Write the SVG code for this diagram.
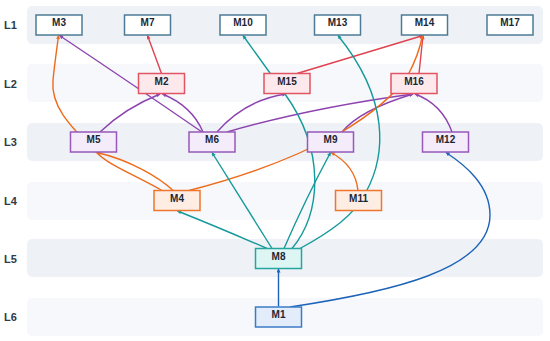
<svg xmlns="http://www.w3.org/2000/svg" width="550" height="341" viewBox="0 0 550 341">
<style>
.band{stroke:none}
.b1{fill:#eef2f7}
.b2{fill:#f6f8fb}
.lay{font-family:"Liberation Sans",Arial,sans-serif;font-weight:bold;font-size:11px;fill:#2e3a47}
.nt{font-family:"Liberation Sans",Arial,sans-serif;font-weight:bold;font-size:10px;fill:#1b2735;text-anchor:middle}
.n rect{stroke-width:1.5}
.l1 rect{fill:#ffffff;stroke:#4d7b95}
.l2 rect{fill:#fde9eb;stroke:#e05464}
.l3 rect{fill:#f4ecfb;stroke:#9758b8}
.l4 rect{fill:#fdede2;stroke:#ef762c}
.l5 rect{fill:#def6f3;stroke:#24a5a0}
.l6 rect{fill:#e2ecfa;stroke:#3b7bc6}
.e{fill:none;stroke-width:1.4}
.red{stroke:#e0424f}
.pur{stroke:#8e44b0}
.ora{stroke:#ee6b1b}
.tea{stroke:#15999a}
.blu{stroke:#1d63b9}
</style>
<defs>
<marker id="aR" viewBox="0 0 10 10" refX="9" refY="5" markerWidth="5" markerHeight="4" markerUnits="userSpaceOnUse" orient="auto"><path d="M0,0L10,5L0,10z" fill="#e0424f"/></marker>
<marker id="aP" viewBox="0 0 10 10" refX="9" refY="5" markerWidth="5" markerHeight="4" markerUnits="userSpaceOnUse" orient="auto"><path d="M0,0L10,5L0,10z" fill="#8e44b0"/></marker>
<marker id="aO" viewBox="0 0 10 10" refX="9" refY="5" markerWidth="5" markerHeight="4" markerUnits="userSpaceOnUse" orient="auto"><path d="M0,0L10,5L0,10z" fill="#ee6b1b"/></marker>
<marker id="aT" viewBox="0 0 10 10" refX="9" refY="5" markerWidth="5" markerHeight="4" markerUnits="userSpaceOnUse" orient="auto"><path d="M0,0L10,5L0,10z" fill="#15999a"/></marker>
<marker id="aB" viewBox="0 0 10 10" refX="9" refY="5" markerWidth="5" markerHeight="4" markerUnits="userSpaceOnUse" orient="auto"><path d="M0,0L10,5L0,10z" fill="#1d63b9"/></marker>
</defs>
<g id="layers">
<rect class="band b1" x="27" y="6" width="516" height="38" rx="5"/>
<rect class="band b2" x="27" y="64" width="516" height="38" rx="5"/>
<rect class="band b1" x="27" y="123" width="516" height="38" rx="5"/>
<rect class="band b2" x="27" y="182" width="516" height="38" rx="5"/>
<rect class="band b1" x="27" y="239" width="516" height="38" rx="5"/>
<rect class="band b2" x="27" y="298" width="516" height="38" rx="5"/>
<text class="lay" x="4" y="29">L1</text>
<text class="lay" x="4" y="87.5">L2</text>
<text class="lay" x="4" y="146">L3</text>
<text class="lay" x="4" y="205">L4</text>
<text class="lay" x="4" y="262.5">L5</text>
<text class="lay" x="4" y="321">L6</text>
</g>
<g id="connectors">
<path class="e red" marker-end="url(#aR)" d="M161.5,73.5L147.5,35.5"/>
<path class="e red" marker-end="url(#aR)" d="M297,73.5L423,35.5"/>
<path class="e red" marker-end="url(#aR)" d="M419,73.5L423,35.5"/>
<path class="e pur" marker-end="url(#aP)" d="M202,132Q135,86 59.5,35.5"/>
<path class="e pur" marker-end="url(#aP)" d="M100,132Q125,108 160,94"/>
<path class="e pur" marker-end="url(#aP)" d="M203,132Q192,106 162.5,94"/>
<path class="e pur" marker-end="url(#aP)" d="M217,132Q245,100 286,94"/>
<path class="e pur" marker-end="url(#aP)" d="M227,132Q310,108 413,94"/>
<path class="e pur" marker-end="url(#aP)" d="M342,132Q360,110 413,94"/>
<path class="e pur" marker-end="url(#aP)" d="M452,132Q442,104 415,94"/>
<path class="e ora" marker-end="url(#aO)" d="M173,190.5C160,178 130,160 97,152.5"/>
<path class="e ora" marker-end="url(#aO)" d="M162,190.5C135,175 108,165 96,152C78,133 50,110 53,80C55,60 57,48 58.5,35.5"/>
<path class="e ora" marker-end="url(#aO)" d="M189,190.5C250,175 300,155 340,133C370,115 395,95 408,75C415,62 420,48 422.5,35.5"/>
<path class="e ora" marker-end="url(#aO)" d="M358,190.5C356,172 345,160 331,152.5"/>
<path class="e tea" marker-end="url(#aT)" d="M267,248.5Q220,228 177.5,211"/>
<path class="e tea" marker-end="url(#aT)" d="M272,248.5L212,152.5"/>
<path class="e tea" marker-end="url(#aT)" d="M284,248.5Q305,200 330.5,152.5"/>
<path class="e tea" marker-end="url(#aT)" d="M292,248.5C322,212 325,150 285,94L243,35.5"/>
<path class="e tea" marker-end="url(#aT)" d="M300,248.5C330,232 355,215 366,192C386,155 390,100 338,35.5"/>
<path class="e blu" marker-end="url(#aB)" d="M278.5,306.5L278.5,269"/>
<path class="e blu" marker-end="url(#aB)" d="M290,307C390,292 490,270 490,215C490,185 465,165 446,152.5"/>
</g>
<g id="M3" class="n l1"><rect x="36" y="15" width="46" height="20"/><text class="nt" x="59" y="26">M3</text></g>
<g id="M7" class="n l1"><rect x="124.5" y="15" width="46" height="20"/><text class="nt" x="147.5" y="26">M7</text></g>
<g id="M10" class="n l1"><rect x="220" y="15" width="46" height="20"/><text class="nt" x="243" y="26">M10</text></g>
<g id="M13" class="n l1"><rect x="314.5" y="15" width="46" height="20"/><text class="nt" x="337.5" y="26">M13</text></g>
<g id="M14" class="n l1"><rect x="401.5" y="15" width="46" height="20"/><text class="nt" x="424.5" y="26">M14</text></g>
<g id="M17" class="n l1"><rect x="487" y="15" width="46" height="20"/><text class="nt" x="510" y="26">M17</text></g>
<g id="M2" class="n l2"><rect x="138.5" y="73.5" width="46" height="20"/><text class="nt" x="161.5" y="84.5">M2</text></g>
<g id="M15" class="n l2"><rect x="264" y="73.5" width="46" height="20"/><text class="nt" x="287" y="84.5">M15</text></g>
<g id="M16" class="n l2"><rect x="391" y="73.5" width="46" height="20"/><text class="nt" x="414" y="84.5">M16</text></g>
<g id="M5" class="n l3"><rect x="70.5" y="132" width="46" height="20"/><text class="nt" x="93.5" y="143">M5</text></g>
<g id="M6" class="n l3"><rect x="189" y="132" width="46" height="20"/><text class="nt" x="212" y="143">M6</text></g>
<g id="M9" class="n l3"><rect x="307.5" y="132" width="46" height="20"/><text class="nt" x="330.5" y="143">M9</text></g>
<g id="M12" class="n l3"><rect x="422.5" y="132" width="46" height="20"/><text class="nt" x="445.5" y="143">M12</text></g>
<g id="M4" class="n l4"><rect x="154" y="190.5" width="46" height="20"/><text class="nt" x="177" y="201.5">M4</text></g>
<g id="M11" class="n l4"><rect x="335.5" y="190.5" width="46" height="20"/><text class="nt" x="358.5" y="201.5">M11</text></g>
<g id="M8" class="n l5"><rect x="255.5" y="248.5" width="46" height="20"/><text class="nt" x="278.5" y="259.5">M8</text></g>
<g id="M1" class="n l6"><rect x="255.5" y="307" width="46" height="20"/><text class="nt" x="278.5" y="318">M1</text></g>
</svg>
